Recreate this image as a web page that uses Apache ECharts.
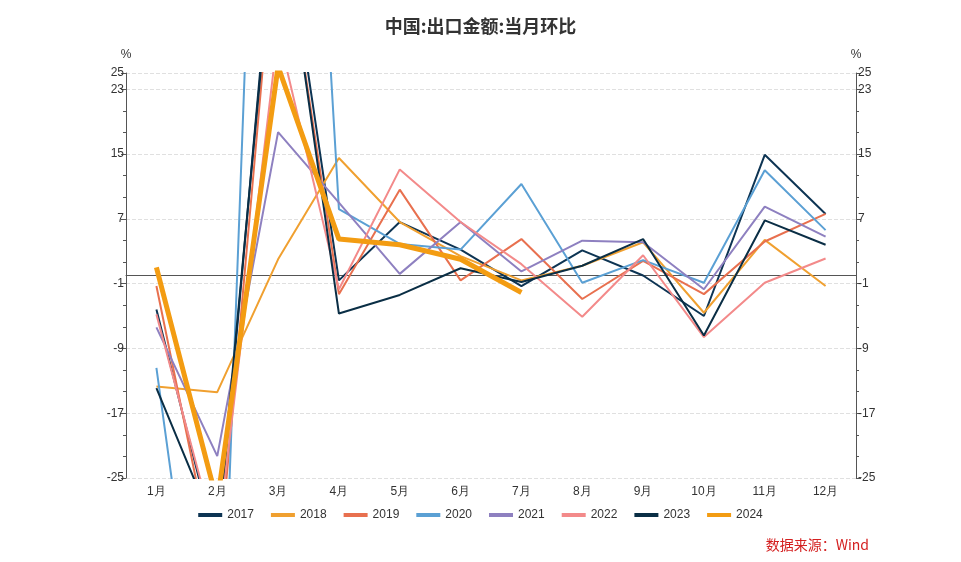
<!DOCTYPE html>
<html>
<head>
<meta charset="utf-8">
<script src="https://cdn.jsdelivr.net/npm/echarts@6/dist/echarts.min.js"></script>
<style>html,body{margin:0;padding:0;background:#fff}#main{width:961px;height:562px}</style>
</head>
<body>
<div id="main"></div>
<script>
// 月份
var months = ['1月','2月','3月','4月','5月','6月','7月','8月','9月','10月','11月','12月']
// 各年当月环比 (%)
var y2017 = [-4.2, -34, 50, -0.6, 6.6, 3.2, -1.3, 3.1, 0.0, -5.0, 14.9, 7.6]
var y2018 = [-13.7, -14.4, 2.0, 14.5, 6.6, 2.4, -0.6, 1.2, 4.1, -4.6, 4.4, -1.3]
var y2019 = [-1.3, -38, 47, -2.3, 10.6, -0.6, 4.5, -2.9, 1.8, -2.3, 4.2, 7.6]
var y2020 = [-11.4, -66, 136, 8.2, 3.9, 3.2, 11.3, -0.9, 1.9, -0.9, 13.0, 5.6]
var y2021 = [-6.4, -22.3, 17.7, 9.0, 0.2, 6.6, 0.5, 4.3, 4.1, -1.7, 8.5, 4.8]
var y2022 = [-4.8, -33, 30, -1.7, 13.1, 6.6, 1.4, -5.1, 2.5, -7.6, -0.9, 2.1]
var y2023 = [-13.9, -32, 48, -4.7, -2.4, 0.9, -0.8, 1.2, 4.5, -7.4, 6.8, 3.8]
var y2024 = [1.0, -28, 25.8, 4.5, 3.8, 2.0, -2.1]

var years = ['2017','2018','2019','2020','2021','2022','2023','2024']
var values = [y2017, y2018, y2019, y2020, y2021, y2022, y2023, y2024]
var colors = ['#0d3453', '#f0a030', '#e8704f', '#5ba0d4', '#8e80c0', '#f38a8a', '#0a2e45', '#f39c12']

var myChart = echarts.init(document.getElementById('main'))
var yAxisBase = {
  type: 'value',
  min: -25,
  max: 25,
  interval: 8,
  name: '%',
  nameGap: 12,
  nameTextStyle: { color: '#333', fontSize: 12, align: 'center' },
  axisLine: { show: true, lineStyle: { color: '#555' } },
  axisTick: { show: true, lineStyle: { color: '#555' } },
  minorTick: { show: true, splitNumber: 3, lineStyle: { color: '#555' } },
  axisLabel: { color: '#333', fontSize: 12, margin: 2 },
  splitLine: { show: false }
}
var option = {
  color: colors,
  title: {
    text: '中国:出口金额:当月环比',
    left: 'center',
    top: 12,
    textStyle: { fontSize: 18, fontWeight: 'bold', color: '#333', fontFamily: 'Noto Sans CJK SC' }
  },
  legend: {
    bottom: 36,
    itemWidth: 24,
    itemHeight: 4,
    itemGap: 17,
    icon: 'rect',
    textStyle: { color: '#333', fontSize: 12 },
    data: years
  },
  graphic: [{
    type: 'text',
    right: 92,
    bottom: 10,
    style: { text: '数据来源：Wind', fill: '#d42020', fontSize: 14, fontFamily: 'Noto Sans CJK SC' }
  }],
  grid: { left: 126, right: 105, top: 73, bottom: 84 },
  xAxis: {
    type: 'category',
    data: months,
    boundaryGap: true,
    axisLine: { lineStyle: { color: '#555' } },
    axisTick: { alignWithLabel: true },
    axisLabel: { color: '#333', fontSize: 12 }
  },
  yAxis: [
    Object.assign({}, yAxisBase, {
      position: 'left',
      splitLine: { show: true, lineStyle: { color: '#e0e0e0', type: 'dashed' } }
    }),
    Object.assign({}, yAxisBase, { position: 'right' })
  ],
  series: years.map(function (y, i) {
    return {
      name: y,
      type: 'line',
      data: values[i],
      symbol: 'none',
      clip: true,
      z: i === 7 ? 10 : 2,
      lineStyle: { width: i === 7 ? 5 : 2, color: colors[i] }
    }
  })
}
myChart.setOption(option)
window.addEventListener('resize', function () {
  myChart.resize()
})
</script>
</body>
</html>
